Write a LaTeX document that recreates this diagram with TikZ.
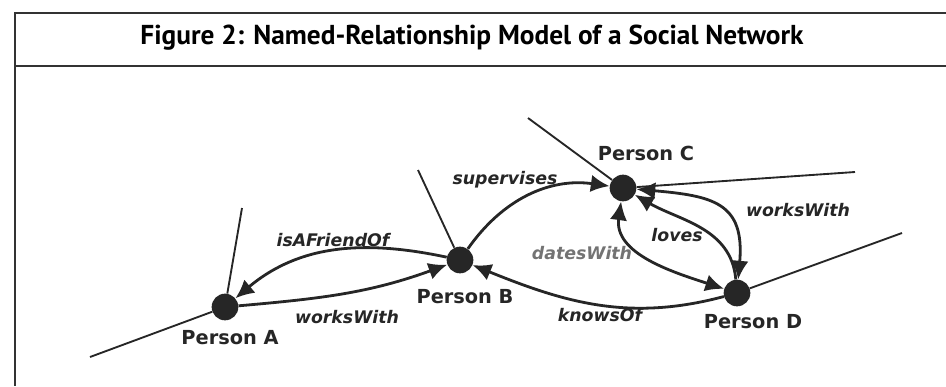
\documentclass[tikz,border=0pt]{standalone}
\usepackage{fontspec}
\setmainfont{DejaVu Sans}
\newfontfamily\titlefont{PT Sans}
\usetikzlibrary{arrows.meta}

\begin{document}
\begin{tikzpicture}[x=0.75pt,y=0.75pt,
    person/.style={circle,fill=black!85,inner sep=0pt,minimum size=20pt},
    personname/.style={font=\fontsize{14.5}{14.5}\selectfont\bfseries,text=black!85},
    rel/.style={font=\fontsize{13}{13}\selectfont\bfseries\itshape,text=black!85},
    link/.style={line width=2.1pt,draw=black!85},
    loose/.style={line width=1.4pt,draw=black!85},
    frameline/.style={line width=1.5pt,draw=black!80},
    onetip/.style={-{Latex[length=14pt,width=13pt]}},
    twotips/.style={{Latex[length=14pt,width=13pt]}-{Latex[length=14pt,width=13pt]}}]
    \useasboundingbox (0,0) rectangle (946,-386);
    % frame and title
    \draw[frameline] (946,-13) -- (15,-13) -- (15,-386);
    \draw[frameline] (15,-66) -- (946,-66);
    \node[font=\titlefont\fontsize{20.5}{20.5}\selectfont\bfseries] (title) at (472,-38) {Figure 2: Named-Relationship Model of a Social Network};
    % people
    \node[person] (a) at (225,-307) {};
    \node[person] (b) at (460,-260) {};
    \node[person] (c) at (623,-188) {};
    \node[person] (d) at (737,-293) {};
    \node[personname] (na) at (230,-338) {Person A};
    \node[personname] (nb) at (465,-297) {Person B};
    \node[personname] (nc) at (646,-153) {Person C};
    \node[personname] (nd) at (753,-322) {Person D};
    % loose ends
    \coordinate (a1) at (242,-208);
    \coordinate (a2) at (90,-357);
    \coordinate (b1) at (418,-170);
    \coordinate (c1) at (528,-118);
    \coordinate (c2) at (855,-172);
    \coordinate (d1) at (902,-233);
    \draw[loose] (a) -- (a1) (a) -- (a2) (b) -- (b1);
    \draw[loose] (c) -- (c1) (c) -- (c2) (d) -- (d1);
    % relations
    \draw[link,onetip] (a) to[out=5,in=200] (b);
    \node[rel] (r1) at (347,-317) {worksWith};
    \draw[link,onetip] (b) to[out=168,in=40] (a);
    \node[rel] (r2) at (333,-240) {isAFriendOf};
    \draw[link,onetip] (b) to[out=55,in=172] (c);
    \node[rel] (r3) at (505,-180) {supervises};
    \draw[link,onetip] (d) to[out=195,in=-22] (b);
    \node[rel] (r4) at (600,-315) {knowsOf};
    \draw[link,twotips] (c) to[out=-5,in=85,looseness=1.45] (d);
    \node[rel] (r5) at (798,-210) {worksWith};
    \draw[link,onetip] (d) to[out=95,in=-30] (c);
    \node[rel] (r6) at (677,-235) {loves};
    \draw[link,twotips] (c) to[out=-98,in=162] (d);
    \node[rel,text=black!55] (r7) at (582,-253) {datesWith};
\end{tikzpicture}
\end{document}
